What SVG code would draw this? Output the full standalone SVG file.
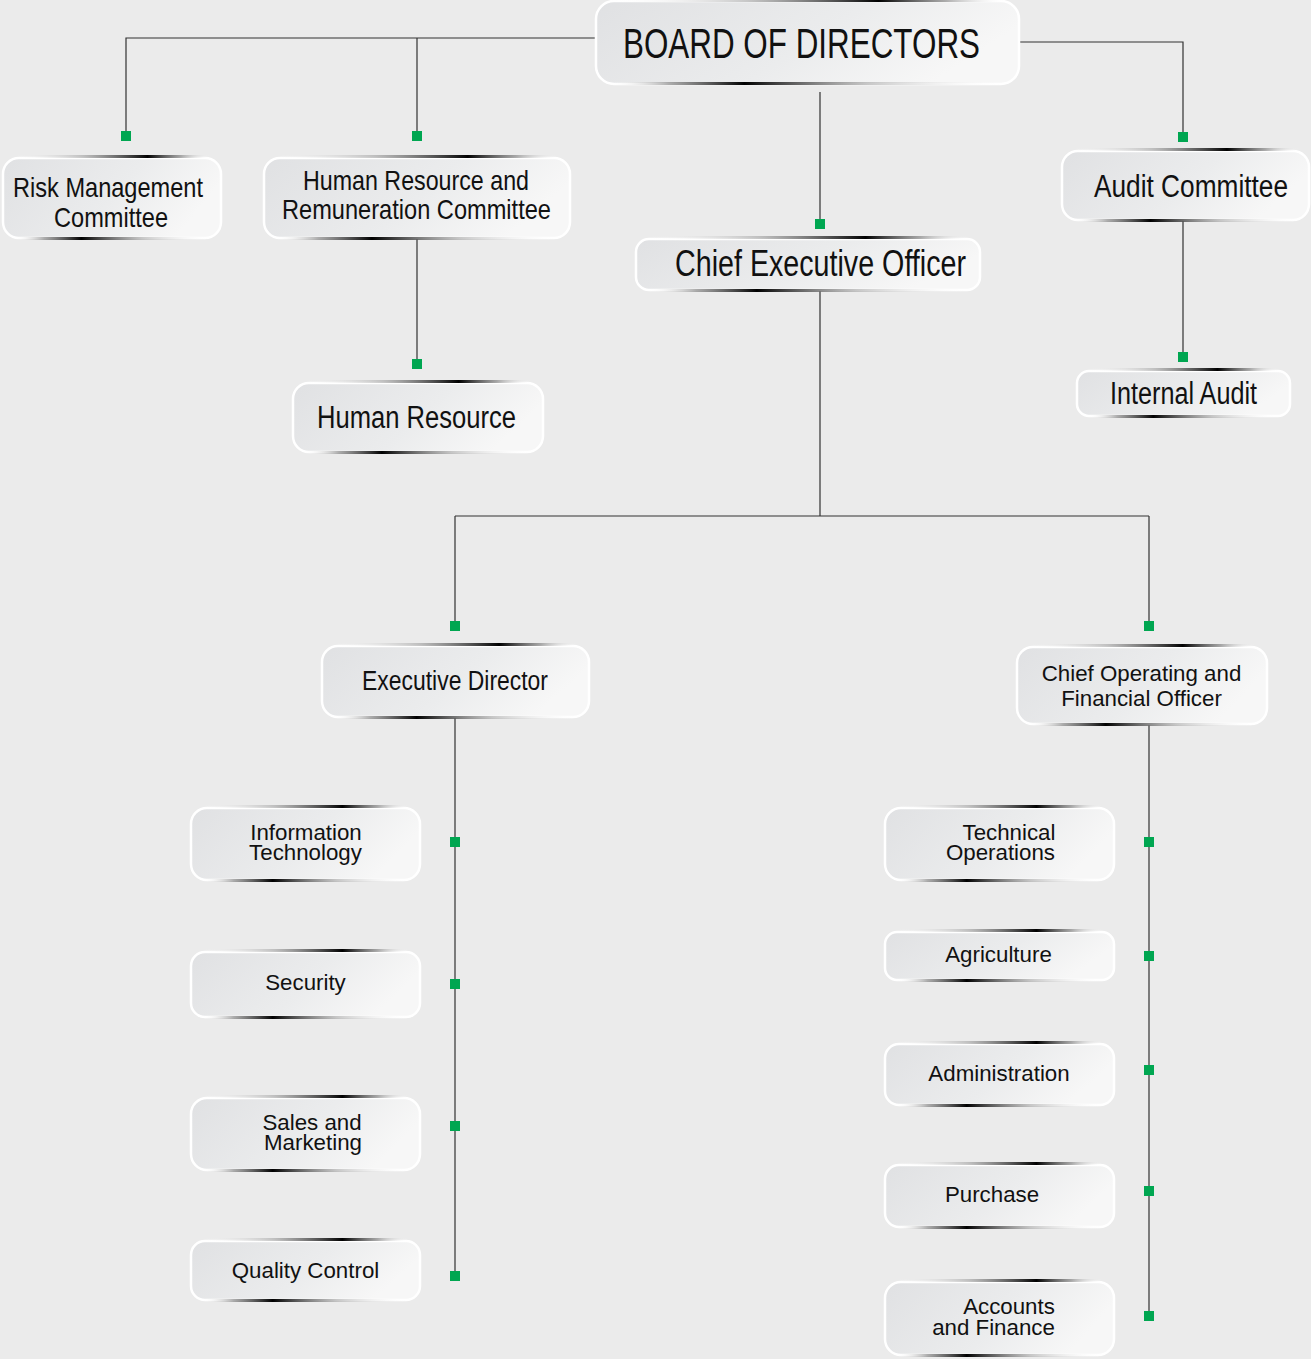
<svg xmlns="http://www.w3.org/2000/svg" width="1311" height="1359" viewBox="0 0 1311 1359">
<defs>
<linearGradient id="boxFill" x1="0" y1="0" x2="1" y2="0.3">
<stop offset="0" stop-color="#e0e1e3"/>
<stop offset="0.6" stop-color="#ebeced"/>
<stop offset="1" stop-color="#f7f7f7"/>
</linearGradient>
<linearGradient id="topShade" x1="0" y1="0" x2="1" y2="0">
<stop offset="0" stop-color="#ffffff" stop-opacity="0"/>
<stop offset="0.35" stop-color="#a0a0a0" stop-opacity="0.6"/>
<stop offset="0.68" stop-color="#000000"/>
<stop offset="0.85" stop-color="#888888" stop-opacity="0.7"/>
<stop offset="1" stop-color="#ffffff" stop-opacity="0"/>
</linearGradient>
<linearGradient id="botShade" x1="0" y1="0" x2="1" y2="0">
<stop offset="0" stop-color="#ffffff" stop-opacity="0"/>
<stop offset="0.15" stop-color="#888888" stop-opacity="0.7"/>
<stop offset="0.34" stop-color="#000000"/>
<stop offset="0.65" stop-color="#a0a0a0" stop-opacity="0.6"/>
<stop offset="1" stop-color="#ffffff" stop-opacity="0"/>
</linearGradient>
</defs>
<style>
.box{fill:url(#boxFill);stroke:#ffffff;stroke-width:2.5}
.ts{fill:url(#topShade)}
.bs{fill:url(#botShade)}
.c{font-family:"Liberation Sans",Arial,sans-serif;fill:#111;text-anchor:middle}
.r{font-family:"Liberation Sans",Arial,sans-serif;fill:#111;text-anchor:middle;font-size:22.3px}
.ln{stroke:#333;stroke-width:1.2;fill:none}
.dot{fill:#00a651}
</style>
<rect width="1311" height="1359" fill="#ebebeb"/>
<g id="connectors">
<path class="ln" d="M595 38H126V136M417 38V136M1020 42H1183V137M820 92V224M417 239V364M1183 221V357M820 291V516M455 516H1149M455 516V626M1149 516V626M455 718V1276M1149 725V1316"/>
<rect class="dot" x="121" y="131" width="10" height="10"/>
<rect class="dot" x="412" y="131" width="10" height="10"/>
<rect class="dot" x="1178" y="132" width="10" height="10"/>
<rect class="dot" x="815" y="219" width="10" height="10"/>
<rect class="dot" x="412" y="359" width="10" height="10"/>
<rect class="dot" x="1178" y="352" width="10" height="10"/>
<rect class="dot" x="450" y="621" width="10" height="10"/>
<rect class="dot" x="1144" y="621" width="10" height="10"/>
<rect class="dot" x="450" y="837" width="10" height="10"/>
<rect class="dot" x="450" y="979" width="10" height="10"/>
<rect class="dot" x="450" y="1121" width="10" height="10"/>
<rect class="dot" x="450" y="1271" width="10" height="10"/>
<rect class="dot" x="1144" y="837" width="10" height="10"/>
<rect class="dot" x="1144" y="951" width="10" height="10"/>
<rect class="dot" x="1144" y="1065" width="10" height="10"/>
<rect class="dot" x="1144" y="1186" width="10" height="10"/>
<rect class="dot" x="1144" y="1311" width="10" height="10"/>
</g>
<g id="board">
<rect class="box" x="596" y="1" width="423" height="83" rx="18"/>
<rect class="ts" x="610" y="-1" width="395" height="3"/>
<rect class="bs" x="610" y="82" width="395" height="3"/>
<text class="c" x="801.5" y="58" font-size="42" textLength="357" lengthAdjust="spacingAndGlyphs">BOARD OF DIRECTORS</text>
</g>
<g id="risk">
<rect class="box" x="3" y="158" width="218" height="80" rx="16"/>
<rect class="ts" x="15" y="155" width="195" height="3"/>
<rect class="bs" x="15" y="237" width="195" height="3"/>
<text class="c" x="108" y="197" font-size="28" textLength="190" lengthAdjust="spacingAndGlyphs">Risk Management</text>
<text class="c" x="111" y="227" font-size="28" textLength="114" lengthAdjust="spacingAndGlyphs">Committee</text>
</g>
<g id="hrc">
<rect class="box" x="264" y="158" width="306" height="80" rx="16"/>
<rect class="ts" x="276" y="155" width="282" height="3"/>
<rect class="bs" x="276" y="237" width="282" height="3"/>
<text class="c" x="416" y="190" font-size="28" textLength="226" lengthAdjust="spacingAndGlyphs">Human Resource and</text>
<text class="c" x="416.5" y="219" font-size="28" textLength="269" lengthAdjust="spacingAndGlyphs">Remuneration Committee</text>
</g>
<g id="hr">
<rect class="box" x="293" y="383" width="250" height="69" rx="16"/>
<rect class="ts" x="305" y="380" width="226" height="3"/>
<rect class="bs" x="305" y="451" width="226" height="3"/>
<text class="c" x="416.5" y="428" font-size="31" textLength="199" lengthAdjust="spacingAndGlyphs">Human Resource</text>
</g>
<g id="ceo">
<rect class="box" x="636" y="239" width="344" height="51" rx="13"/>
<rect class="ts" x="648" y="236" width="320" height="3"/>
<rect class="bs" x="648" y="289" width="320" height="3"/>
<text class="c" x="820.5" y="276" font-size="36" textLength="291" lengthAdjust="spacingAndGlyphs">Chief Executive Officer</text>
</g>
<g id="audit">
<rect class="box" x="1062" y="151" width="247" height="69" rx="16"/>
<rect class="ts" x="1074" y="148" width="225" height="3"/>
<rect class="bs" x="1074" y="219" width="225" height="3"/>
<text class="c" x="1191" y="197" font-size="31" textLength="194" lengthAdjust="spacingAndGlyphs">Audit Committee</text>
</g>
<g id="internal">
<rect class="box" x="1077" y="371" width="213" height="45" rx="12"/>
<rect class="ts" x="1089" y="368" width="189" height="3"/>
<rect class="bs" x="1089" y="415" width="189" height="3"/>
<text class="c" x="1183.5" y="404" font-size="31" textLength="147" lengthAdjust="spacingAndGlyphs">Internal Audit</text>
</g>
<g id="exec">
<rect class="box" x="322" y="646" width="267" height="71" rx="16"/>
<rect class="ts" x="334" y="643" width="243" height="3"/>
<rect class="bs" x="334" y="716" width="243" height="3"/>
<text class="c" x="455" y="690" font-size="27" textLength="186" lengthAdjust="spacingAndGlyphs">Executive Director</text>
</g>
<g id="cofo">
<rect class="box" x="1017" y="647" width="250" height="77" rx="16"/>
<rect class="ts" x="1029" y="644" width="226" height="3"/>
<rect class="bs" x="1029" y="723" width="226" height="3"/>
<text class="r" x="1141.5" y="681">Chief Operating and</text>
<text class="r" x="1141.5" y="706">Financial Officer</text>
</g>
<g id="it">
<rect class="box" x="191" y="808" width="229" height="72" rx="16"/>
<rect class="ts" x="203" y="805" width="205" height="3"/>
<rect class="bs" x="203" y="879" width="205" height="3"/>
<text class="r" x="306" y="840">Information</text>
<text class="r" x="305.5" y="860">Technology</text>
</g>
<g id="security">
<rect class="box" x="191" y="952" width="229" height="65" rx="14"/>
<rect class="ts" x="203" y="949" width="205" height="3"/>
<rect class="bs" x="203" y="1016" width="205" height="3"/>
<text class="r" x="305.5" y="990">Security</text>
</g>
<g id="sales">
<rect class="box" x="191" y="1098" width="229" height="72" rx="16"/>
<rect class="ts" x="203" y="1095" width="205" height="3"/>
<rect class="bs" x="203" y="1169" width="205" height="3"/>
<text class="r" x="312" y="1130">Sales and</text>
<text class="r" x="313" y="1150">Marketing</text>
</g>
<g id="quality">
<rect class="box" x="191" y="1241" width="229" height="59" rx="14"/>
<rect class="ts" x="203" y="1238" width="205" height="3"/>
<rect class="bs" x="203" y="1299" width="205" height="3"/>
<text class="r" x="305.5" y="1278">Quality Control</text>
</g>
<g id="techops">
<rect class="box" x="885" y="808" width="229" height="72" rx="16"/>
<rect class="ts" x="897" y="805" width="205" height="3"/>
<rect class="bs" x="897" y="879" width="205" height="3"/>
<text class="r" x="1009" y="840">Technical</text>
<text class="r" x="1000.5" y="860">Operations</text>
</g>
<g id="agri">
<rect class="box" x="885" y="932" width="229" height="48" rx="12"/>
<rect class="ts" x="897" y="929" width="205" height="3"/>
<rect class="bs" x="897" y="979" width="205" height="3"/>
<text class="r" x="998.5" y="962">Agriculture</text>
</g>
<g id="admin">
<rect class="box" x="885" y="1044" width="229" height="61" rx="14"/>
<rect class="ts" x="897" y="1041" width="205" height="3"/>
<rect class="bs" x="897" y="1104" width="205" height="3"/>
<text class="r" x="999" y="1081">Administration</text>
</g>
<g id="purchase">
<rect class="box" x="885" y="1165" width="229" height="62" rx="14"/>
<rect class="ts" x="897" y="1162" width="205" height="3"/>
<rect class="bs" x="897" y="1226" width="205" height="3"/>
<text class="r" x="992" y="1202">Purchase</text>
</g>
<g id="accounts">
<rect class="box" x="885" y="1282" width="229" height="73" rx="16"/>
<rect class="ts" x="897" y="1279" width="205" height="3"/>
<rect class="bs" x="897" y="1354" width="205" height="3"/>
<text class="r" x="1009" y="1314">Accounts</text>
<text class="r" x="993.5" y="1335">and Finance</text>
</g>
</svg>
